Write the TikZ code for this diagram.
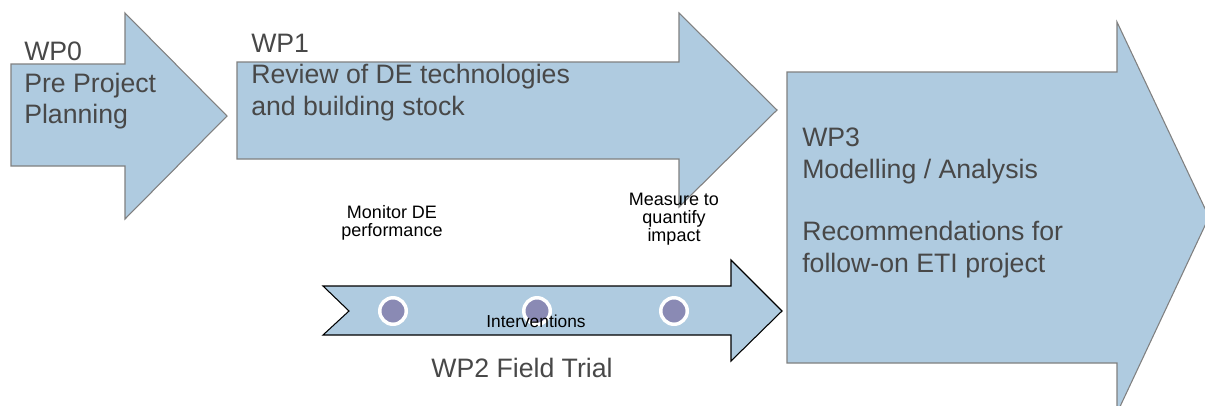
\documentclass[tikz,border=0pt]{standalone}
\usepackage{fontspec}
\setmainfont{Liberation Sans}
\definecolor{wpblue}{HTML}{AFCBE0}
\definecolor{wpedge}{HTML}{808080}
\definecolor{wptext}{HTML}{484848}
\definecolor{wpdot}{HTML}{8A8AB4}
\begin{document}
\begin{tikzpicture}[x=0.75pt,y=-0.75pt,
  wparrow/.style={fill=wpblue, draw=wpedge, line width=0.8pt},
  wplabel/.style={anchor=north west, inner sep=0pt, align=left, text=wptext,
    font=\fontsize{20}{23.5}\selectfont},
  smalllabel/.style={inner sep=0pt, align=center,
    font=\fontsize{13.5}{13.6}\selectfont},
  milestone/.style={circle, fill=wpdot, draw=white, line width=2.6pt,
    minimum size=19.9pt, inner sep=0pt}]
\useasboundingbox (0,0) rectangle (1205,405);
\clip (0,0) rectangle (1205,405);

% work package arrows
\draw[wparrow] (11,64) -- (125,64) -- (125,13) -- (227,116) -- (125,219) -- (125,166) -- (11,166) -- cycle;
\draw[wparrow] (237,62) -- (679,62) -- (679,13) -- (777,110) -- (679,207) -- (679,159) -- (237,159) -- cycle;
\draw[wparrow] (787,72) -- (1117,72) -- (1117,22) -- (1209,217) -- (1117,413) -- (1117,363) -- (787,363) -- cycle;
\draw[wparrow, draw=black] (323,286) -- (731,286) -- (731,260) -- (782,311) -- (731,361) -- (731,335) -- (323,335) -- (349,311) -- cycle;

% field trial milestones
\node[milestone] (monitor) at (393,311) {};
\node[milestone] (interv) at (537,311) {};
\node[milestone] (measure) at (674,311) {};

\node[wplabel] (wp0) at (24,42) {WP0\\Pre Project\\Planning};
\node[wplabel] (wp1) at (251,34) {WP1\\Review of DE technologies\\and building stock};
\node[wplabel] (wp3) at (802,128) {WP3\\Modelling / Analysis\\[23.5pt]Recommendations for\\follow-on ETI project};

\node[smalllabel, anchor=north] (monitortext) at (392,205) {Monitor DE\\performance};
\node[smalllabel, anchor=north] (measuretext) at (674,193) {Measure to\\quantify\\impact};
\node[smalllabel, anchor=base, font=\fontsize{13}{13}\selectfont] (intervtext) at (536,327) {Interventions};
\node[anchor=base, inner sep=0pt, text=wptext, font=\fontsize{20}{23.5}\selectfont] (wp2) at (522,377) {WP2 Field Trial};
\end{tikzpicture}
\end{document}
